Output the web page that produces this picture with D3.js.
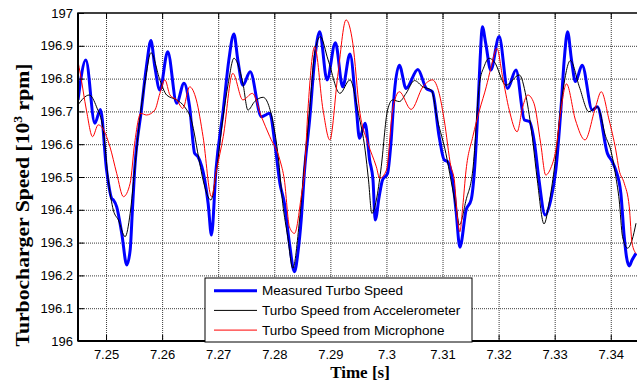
<!DOCTYPE html>
<html>
<head>
<meta charset="utf-8">
<script src="https://cdn.jsdelivr.net/npm/d3@7"></script>
<style>
  body { margin: 0; background: #fff; }
  svg { display: block; }
  .tick text { font-family: Arial, "Liberation Sans", sans-serif; font-size: 13px; fill: #000; }
</style>
</head>
<body>
<figure id="chart" style="margin:0"></figure>
<script>
// tick labels
const xTicks = [7.25, 7.26, 7.27, 7.28, 7.29, 7.30, 7.31, 7.32, 7.33, 7.34];
const xTickLabels = ['7.25', '7.26', '7.27', '7.28', '7.29', '7.3', '7.31', '7.32', '7.33', '7.34'];
const yTicks = [196, 196.1, 196.2, 196.3, 196.4, 196.5, 196.6, 196.7, 196.8, 196.9, 197];
const yTickLabels = ['196', '196.1', '196.2', '196.3', '196.4', '196.5', '196.6', '196.7', '196.8', '196.9', '197'];

const seriesNames = ['Measured Turbo Speed', 'Turbo Speed from Accelerometer', 'Turbo Speed from Microphone'];

// measured turbo speed [10^3 rpm]
const measuredTime = [7.2450,7.2464,7.2480,7.2490,7.2501,7.2510,7.2513,7.2519,7.2528,7.2537,
  7.2543,7.2547,7.2551,7.2563,7.2572,7.2580,7.2587,7.2596,7.2610,7.2626,
  7.2639,7.2649,7.2658,7.2664,7.2676,7.2682,7.2688,7.2696,7.2709,7.2719,
  7.2728,7.2735,7.2744,7.2757,7.2777,7.2792,7.2801,7.2810,7.2818,7.2827,
  7.2836,7.2842,7.2848,7.2854,7.2863,7.2872,7.2881,7.2894,7.2909,7.2922,
  7.2935,7.2946,7.2952,7.2962,7.2970,7.2976,7.2980,7.2987,7.2993,7.3002,
  7.3008,7.3014,7.3023,7.3035,7.3056,7.3071,7.3082,7.3094,7.3103,7.3109,
  7.3118,7.3124,7.3131,7.3142,7.3151,7.3157,7.3163,7.3167,7.3171,7.3177,
  7.3186,7.3201,7.3216,7.3231,7.3246,7.3255,7.3264,7.3272,7.3283,7.3293,
  7.3302,7.3311,7.3317,7.3323,7.3330,7.3337,7.3349,7.3367,7.3376,7.3394,
  7.3403,7.3409,7.3418,7.3424,7.3428,7.3433,7.3438,7.3445];
const measuredSpeed = [196.735,196.857,196.664,196.706,196.521,196.435,196.430,196.409,196.328,196.232,
  196.277,196.399,196.521,196.704,196.836,196.916,196.836,196.765,196.882,196.725,
  196.786,196.714,196.572,196.562,196.491,196.420,196.323,196.521,196.704,196.857,
  196.936,196.857,196.780,196.821,196.684,196.694,196.603,196.481,196.420,196.298,
  196.211,196.267,196.369,196.521,196.674,196.857,196.943,196.796,196.909,196.775,
  196.875,196.714,196.618,196.664,196.552,196.491,196.369,196.440,196.491,196.511,
  196.603,196.755,196.841,196.770,196.828,196.770,196.760,196.623,196.552,196.547,
  196.491,196.399,196.286,196.399,196.430,196.521,196.704,196.857,196.958,196.908,
  196.826,196.928,196.770,196.826,196.674,196.669,196.603,196.491,196.384,196.430,
  196.521,196.704,196.857,196.943,196.857,196.791,196.841,196.704,196.714,196.572,
  196.546,196.521,196.450,196.318,196.257,196.229,196.247,196.267];

// speed estimated from accelerometer
const accelTime = [7.2450,7.2470,7.2483,7.2495,7.2504,7.2513,7.2522,7.2534,7.2543,7.2551,
  7.2560,7.2571,7.2580,7.2596,7.2608,7.2626,7.2640,7.2652,7.2667,7.2673,
  7.2687,7.2697,7.2708,7.2718,7.2728,7.2744,7.2753,7.2765,7.2780,7.2798,
  7.2807,7.2815,7.2824,7.2833,7.2845,7.2853,7.2863,7.2872,7.2882,7.2896,
  7.2917,7.2935,7.2950,7.2962,7.2968,7.2974,7.2982,7.2990,7.3002,7.3011,
  7.3023,7.3035,7.3050,7.3065,7.3080,7.3091,7.3106,7.3115,7.3124,7.3130,
  7.3142,7.3154,7.3166,7.3174,7.3183,7.3192,7.3213,7.3237,7.3249,7.3260,
  7.3269,7.3281,7.3290,7.3299,7.3314,7.3328,7.3344,7.3361,7.3376,7.3391,
  7.3400,7.3409,7.3415,7.3421,7.3430,7.3438,7.3445];
const accelSpeed = [196.720,196.750,196.714,196.643,196.491,196.399,196.369,196.318,196.389,196.521,
  196.674,196.806,196.879,196.796,196.750,196.735,196.714,196.674,196.542,196.491,
  196.430,196.521,196.674,196.786,196.862,196.786,196.704,196.730,196.743,196.664,
  196.562,196.420,196.318,196.222,196.369,196.521,196.704,196.877,196.928,196.857,
  196.755,196.796,196.694,196.582,196.491,196.389,196.430,196.521,196.704,196.735,
  196.730,196.755,196.794,196.775,196.765,196.674,196.572,196.491,196.409,196.354,
  196.430,196.521,196.786,196.836,196.862,196.852,196.780,196.811,196.745,196.623,
  196.491,196.357,196.420,196.521,196.755,196.855,196.775,196.699,196.714,196.623,
  196.582,196.501,196.430,196.318,196.283,196.308,196.359];

// speed estimated from microphone
const micTime = [7.2450,7.2454,7.2465,7.2476,7.2486,7.2492,7.2507,7.2519,7.2531,7.2543,
  7.2551,7.2562,7.2572,7.2587,7.2596,7.2605,7.2614,7.2626,7.2637,7.2649,
  7.2661,7.2673,7.2688,7.2697,7.2709,7.2726,7.2744,7.2761,7.2777,7.2792,
  7.2810,7.2818,7.2827,7.2836,7.2848,7.2854,7.2860,7.2872,7.2887,7.2899,
  7.2913,7.2928,7.2940,7.2952,7.2967,7.2982,7.2988,7.3000,7.3011,7.3023,
  7.3044,7.3065,7.3082,7.3094,7.3103,7.3115,7.3121,7.3127,7.3131,7.3136,
  7.3142,7.3154,7.3166,7.3178,7.3186,7.3197,7.3207,7.3219,7.3233,7.3243,
  7.3252,7.3263,7.3275,7.3284,7.3293,7.3302,7.3311,7.3321,7.3337,7.3354,
  7.3373,7.3383,7.3397,7.3409,7.3415,7.3424,7.3433,7.3438,7.3445];
const micSpeed = [196.852,196.816,196.704,196.623,196.659,196.653,196.592,196.511,196.440,196.481,
  196.603,196.694,196.689,196.704,196.755,196.796,196.750,196.735,196.709,196.775,
  196.735,196.623,196.440,196.521,196.623,196.816,196.735,196.755,196.684,196.623,
  196.552,196.491,196.348,196.328,196.440,196.521,196.704,196.897,196.704,196.613,
  196.806,196.979,196.908,196.704,196.603,196.531,196.496,196.521,196.704,196.760,
  196.706,196.775,196.796,196.755,196.674,196.531,196.491,196.369,196.333,196.409,
  196.521,196.623,196.704,196.775,196.831,196.892,196.806,196.704,196.638,196.714,
  196.750,196.725,196.603,196.506,196.527,196.582,196.704,196.784,196.674,196.613,
  196.714,196.760,196.674,196.582,196.521,196.481,196.409,196.298,196.267];

const W = 637, H = 382;
const margin = { top: 13, right: 0, bottom: 41, left: 78 };
const width = W - margin.left - margin.right;
const height = H - margin.top - margin.bottom;

const svg = d3.select('#chart').append('svg')
  .attr('width', W).attr('height', H);
const g = svg.append('g').attr('transform', `translate(${margin.left},${margin.top})`);

const x = d3.scaleLinear().domain([7.245, 7.3445]).range([0, width - 1]);
const y = d3.scaleLinear().domain([196, 197]).range([height, 0]);

// grid
g.append('g')
  .attr('transform', `translate(0,${height})`)
  .call(d3.axisBottom(x).tickValues(xTicks).tickSize(-height).tickFormat(''))
  .call(s => s.select('.domain').remove())
  .call(s => s.selectAll('line').attr('stroke', '#3a3a3a').attr('stroke-dasharray', '1,1'));
g.append('g')
  .call(d3.axisLeft(y).tickValues(yTicks.slice(1, -1)).tickSize(-width - 2).tickFormat(''))
  .call(s => s.select('.domain').remove())
  .call(s => s.selectAll('line').attr('stroke', '#3a3a3a').attr('stroke-dasharray', '1,1'));

g.append('clipPath').attr('id', 'plotClip')
  .append('rect').attr('width', width + 2).attr('height', height);

const line = d3.line()
  .x(d => x(d[0]))
  .y(d => y(d[1]))
  .curve(d3.curveMonotoneX);

const series = [
  { data: d3.zip(measuredTime, measuredSpeed), color: '#0000ff', w: 3 },
  { data: d3.zip(accelTime, accelSpeed), color: '#000000', w: 1 },
  { data: d3.zip(micTime, micSpeed), color: '#ff0000', w: 1 }
];

const lines = g.append('g').attr('clip-path', 'url(#plotClip)');
series.forEach(s => {
  lines.append('path')
    .datum(s.data)
    .attr('fill', 'none')
    .attr('stroke', s.color)
    .attr('stroke-width', s.w)
    .attr('stroke-linejoin', 'round')
    .attr('d', line);
});

// axes with inward ticks
g.append('g')
  .attr('transform', `translate(0,${height})`)
  .call(d3.axisBottom(x).tickValues(xTicks).tickSizeInner(-6).tickSizeOuter(0).tickPadding(8.5)
    .tickFormat((d, i) => xTickLabels[i]))
  .call(s => s.select('.domain').remove());
g.append('g')
  .call(d3.axisTop(x).tickValues(xTicks).tickSizeInner(-6).tickSizeOuter(0).tickFormat(''))
  .call(s => s.select('.domain').remove());
g.append('g')
  .call(d3.axisLeft(y).tickValues(yTicks).tickSizeInner(-6).tickSizeOuter(0).tickPadding(5)
    .tickFormat((d, i) => yTickLabels[i]))
  .call(s => s.select('.domain').remove());

g.append('rect')
  .attr('width', width + 4).attr('height', height)
  .attr('fill', 'none').attr('stroke', '#000').attr('stroke-width', 1.5);
g.append('line').attr('x1', 0).attr('x2', 0).attr('y1', 0).attr('y2', height)
  .attr('stroke', '#000').attr('stroke-width', 2);
g.append('line').attr('x1', 0).attr('x2', width + 2).attr('y1', height).attr('y2', height)
  .attr('stroke', '#000').attr('stroke-width', 2);

// legend
const legend = svg.append('g').attr('transform', 'translate(205,278)');
legend.append('rect')
  .attr('width', 267).attr('height', 64)
  .attr('fill', '#fff').attr('stroke', '#000').attr('stroke-width', 1);
series.forEach((s, i) => {
  const ly = 12.7 + i * 19.7;
  legend.append('line')
    .attr('x1', 9).attr('x2', 52).attr('y1', ly).attr('y2', ly)
    .attr('stroke', s.color).attr('stroke-width', s.w);
  legend.append('text')
    .attr('x', 57).attr('y', ly).attr('dy', '0.35em')
    .attr('font-family', 'Arial, "Liberation Sans", sans-serif')
    .attr('font-size', 13.5)
    .text(seriesNames[i]);
});

// axis titles
svg.append('text')
  .attr('x', 360).attr('y', 377.5)
  .attr('text-anchor', 'middle')
  .attr('font-family', '"Times New Roman", "Liberation Serif", serif')
  .attr('font-weight', 'bold').attr('font-size', 17)
  .text('Time [s]');

const yl = svg.append('text')
  .attr('transform', 'translate(29,346.5) rotate(-90)')
  .attr('text-anchor', 'start')
  .attr('font-family', '"Times New Roman", "Liberation Serif", serif')
  .attr('font-weight', 'bold').attr('font-size', 19)
  .attr('textLength', 283).attr('lengthAdjust', 'spacingAndGlyphs');
yl.append('tspan').text('Turbocharger Speed [10');
yl.append('tspan').attr('baseline-shift', 'super').attr('font-size', 12).text('3');
yl.append('tspan').text(' rpm]');
</script>
</body>
</html>
